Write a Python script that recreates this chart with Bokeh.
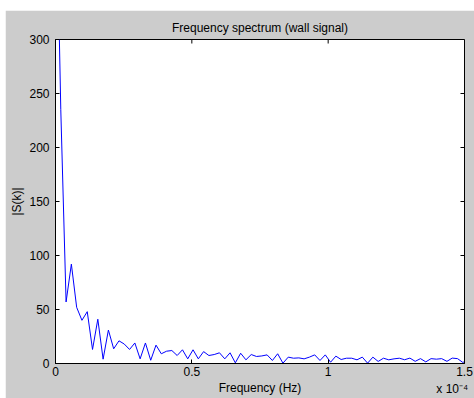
import math
from bokeh.plotting import figure
from bokeh.models import (LinearAxis, FixedTicker, CustomJSTickFormatter, Range1d,
                          Spacer, ColumnDataSource)
from bokeh.layouts import column, row
from bokeh.embed import file_html
from bokeh.resources import INLINE

# Spectrum bin spacing (Hz) and |S(k)| for each bin, starting at DC
bin_width_hz = 1.94e-6
magnitude = [480, 235, 57, 92, 52, 40, 48, 13, 41, 4,
             31, 13.6, 21, 18, 13, 19, 4.3, 19, 3, 17,
             9, 11.4, 12, 7.4, 12.7, 4.3, 12.7, 4.3, 11, 7.4,
             8.3, 9.9, 4.3, 9.9, 0.6, 9.5, 3.4, 8.3, 6.5, 7,
             8, 2.8, 9, 0.3, 5.9, 4.9, 5.2, 4.3, 5.9, 8,
             2.8, 8, 1.2, 6.8, 3.7, 4.9, 4.9, 3.4, 5.9, 0.3,
             5.9, 1.9, 4.9, 3.4, 4.3, 4.9, 3.5, 5, 2, 4.5,
             1.5, 4.5, 4, 4.5, 2, 5, 4.5, 1, 3]
frequency_hz = [k * bin_width_hz for k in range(len(magnitude))]

x_ticks = [0, 0.5e-4, 1.0e-4, 1.5e-4]
y_ticks = [0, 50, 100, 150, 200, 250, 300]
x_lim = (0, 1.5e-4)
y_lim = (0, 300)
x_multiplier = "x 10\u207b\u2074"

FONT = "Liberation Sans"
GREY = "#cccccc"

src = ColumnDataSource(dict(f=frequency_hz, s=magnitude))

p = figure(width=469, height=388,
           x_range=Range1d(*x_lim), y_range=Range1d(*y_lim),
           output_backend="svg", toolbar_location=None,
           min_border_left=50, min_border_right=10,
           min_border_top=29, min_border_bottom=35,
           background_fill_color="white", border_fill_color=GREY,
           outline_line_color="black", outline_line_width=1)

p.line("f", "s", source=src, line_color="#0000ff", line_width=1)

p.xgrid.visible = False
p.ygrid.visible = False

p.title.text = "Frequency spectrum (wall signal)"
p.title.align = "center"
p.title.text_font = FONT
p.title.text_font_size = "12px"
p.title.text_font_style = "normal"
p.title.text_color = "black"
p.title.standoff = 9

tick_fmt = CustomJSTickFormatter(code="return String(Math.round(tick * 1e5) / 10);")


def style_axis(ax, ticks):
    ax.ticker = FixedTicker(ticks=ticks)
    ax.major_tick_in = 4
    ax.major_tick_out = 0
    ax.minor_tick_line_color = None
    ax.axis_line_color = "black"
    ax.major_tick_line_color = "black"
    ax.major_label_text_font = FONT
    ax.major_label_text_font_size = "12px"
    ax.major_label_text_color = "black"
    ax.axis_label_text_font = FONT
    ax.axis_label_text_font_size = "12px"
    ax.axis_label_text_font_style = "normal"
    ax.axis_label_text_color = "black"


xa = p.xaxis[0]
style_axis(xa, x_ticks)
xa.formatter = tick_fmt
xa.major_label_standoff = 3
xa.axis_label = "Frequency (Hz)"
xa.axis_label_standoff = 2

ya = p.yaxis[0]
style_axis(ya, y_ticks)
ya.major_label_standoff = 6
ya.axis_label = "|S(k)|"
ya.axis_label_standoff = 2

# inward tick marks on the top and right edges of the box
p.ray(x=x_ticks, y=[y_lim[1]] * len(x_ticks), length=4, length_units="screen",
      angle=-math.pi / 2, line_color="black", line_width=1)
p.ray(x=[x_lim[1]] * len(y_ticks), y=y_ticks, length=4, length_units="screen",
      angle=math.pi, line_color="black", line_width=1)

# exponent of the x axis, shown under its right end
mult_axis = LinearAxis(ticker=FixedTicker(ticks=[1.455e-4]),
                       formatter=CustomJSTickFormatter(code=f"return '{x_multiplier}';"))
mult_axis.axis_line_color = None
mult_axis.major_tick_line_color = None
mult_axis.minor_tick_line_color = None
mult_axis.major_tick_in = 0
mult_axis.major_tick_out = 0
mult_axis.major_label_standoff = -16
mult_axis.major_label_text_font = FONT
mult_axis.major_label_text_font_size = "12px"
mult_axis.major_label_text_color = "black"
p.add_layout(mult_axis, "below")

layout = column(Spacer(width=474, height=10),
                row(Spacer(width=5, height=388), p))

open("out.html", "w").write(file_html(layout, INLINE))
